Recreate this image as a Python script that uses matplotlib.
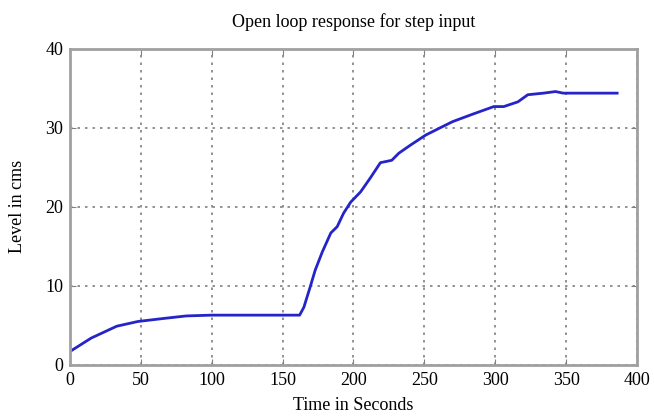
import numpy as np
import matplotlib
matplotlib.use("Agg")
import matplotlib.pyplot as plt

# values
time_s = [0, 15, 33, 48, 67, 82, 100, 130, 162, 165, 169.5, 173, 178, 184, 188.5,
          193, 198, 205, 212, 219, 227, 232, 240, 251, 261, 270, 285, 299, 306,
          316, 323, 334, 342.5, 348, 386]
level_cm = [1.7, 3.4, 4.9, 5.5, 5.9, 6.2, 6.3, 6.3, 6.3, 7.3, 9.9, 12.0, 14.3, 16.7, 17.5,
            19.2, 20.6, 21.9, 23.7, 25.6, 25.9, 26.8, 27.8, 29.1, 30.0, 30.8, 31.8, 32.7, 32.7,
            33.3, 34.2, 34.4, 34.6, 34.4, 34.4]
x_ticks = [0, 50, 100, 150, 200, 250, 300, 350, 400]
y_ticks = [0, 10, 20, 30, 40]

plt.rcParams['font.family'] = ['Liberation Serif', 'DejaVu Serif']

fig = plt.figure(figsize=(6.54, 4.18), dpi=100)
ax = fig.add_axes([0.107, 0.127, 0.867, 0.756])

ax.plot(time_s, level_cm, color='#2424c8', linewidth=2)

ax.set_xlim(0, 400)
ax.set_ylim(0, 40)
ax.set_xticks(x_ticks)
ax.set_yticks(y_ticks)
ax.grid(True, color='#808080', linestyle=(0, (1.5, 3)), linewidth=1.2)
ax.tick_params(direction='in', length=4, color='#808080', labelsize=13,
               top=True, right=True, pad=5)
for sp in ax.spines.values():
    sp.set_color('#a0a0a0')
    sp.set_linewidth(2)

ax.set_title('Open loop response for step input', fontsize=13, pad=16)
ax.set_xlabel('Time in Seconds', fontsize=13, labelpad=6)
ax.set_ylabel('Level in cms', fontsize=13, labelpad=14)

fig.savefig('out.png', dpi=100)
